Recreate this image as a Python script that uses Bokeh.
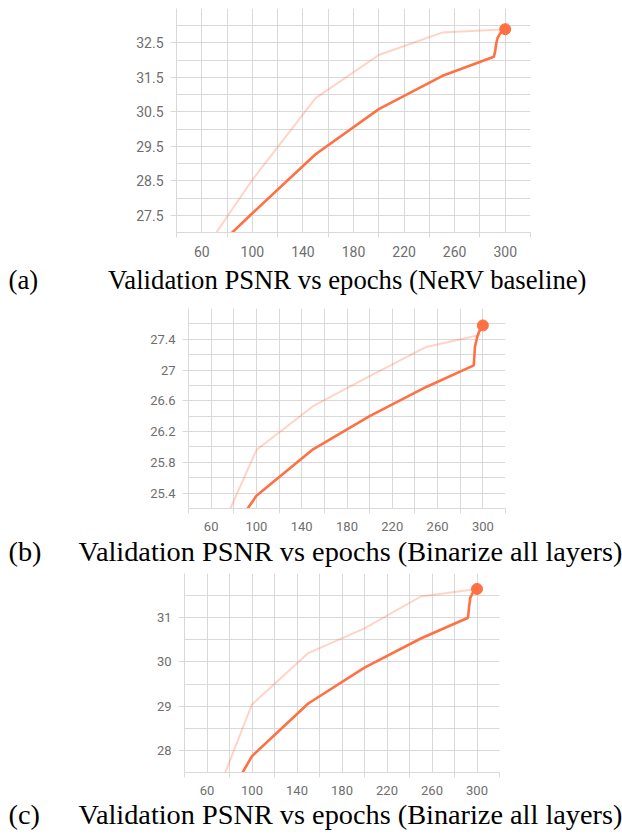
from bokeh.plotting import figure
from bokeh.models import Range1d, FixedTicker
from bokeh.core.properties import value
from bokeh.embed import file_html
from bokeh.resources import INLINE

# ---------------- data ----------------
# Panel (a): NeRV baseline
epochs_a_light = [50, 100, 150, 200, 250, 300]
psnr_a_light = [25.84, 28.53, 30.90, 32.15, 32.80, 32.90]
epochs_a_dark = [50, 100, 150, 200, 250, 291, 292, 293, 294, 296, 298, 300]
psnr_a_dark = [25.80, 27.56, 29.27, 30.58, 31.54, 32.10, 32.25, 32.50, 32.65, 32.78, 32.86, 32.90]

# Panel (b): Binarize all layers
epochs_b_light = [50, 100, 150, 200, 250, 295, 300]
psnr_b_light = [24.31, 25.96, 26.53, 26.92, 27.30, 27.45, 27.58]
epochs_b_dark = [50, 100, 150, 200, 250, 292, 293, 295, 297, 300]
psnr_b_dark = [24.30, 25.365, 25.97, 26.40, 26.78, 27.06, 27.30, 27.43, 27.51, 27.58]

# Panel (c): Binarize all layers
epochs_c_light = [50, 100, 150, 200, 250, 295, 300]
psnr_c_light = [25.80, 29.04, 30.20, 30.76, 31.48, 31.63, 31.65]
epochs_c_dark = [50, 100, 150, 200, 250, 292, 293, 294, 296, 298, 300]
psnr_c_dark = [25.67, 27.87, 29.06, 29.87, 30.53, 31.00, 31.25, 31.45, 31.55, 31.61, 31.65]

# ticks
x_label_ticks = [60, 100, 140, 180, 220, 260, 300]
x_minor_ticks = [40, 80, 120, 160, 200, 240, 280, 320]
x_grid_ticks = [40, 60, 80, 100, 120, 140, 160, 180, 200, 220, 240, 260, 280, 300, 320]

y_ticks_a = [27.5, 28.5, 29.5, 30.5, 31.5, 32.5]
y_grid_a = [27.0, 27.5, 28.0, 28.5, 29.0, 29.5, 30.0, 30.5, 31.0, 31.5, 32.0, 32.5, 33.0, 33.5]
y_ticks_b = [25.4, 25.8, 26.2, 26.6, 27.0, 27.4]
y_labels_b = ["25.4", "25.8", "26.2", "26.6", "27", "27.4"]
y_grid_b = [25.2, 25.4, 25.6, 25.8, 26.0, 26.2, 26.4, 26.6, 26.8, 27.0, 27.2, 27.4, 27.6, 27.8]
y_ticks_c = [28, 29, 30, 31]
y_grid_c = [27.5, 28.0, 28.5, 29.0, 29.5, 30.0, 30.5, 31.0, 31.5, 32.0]

captions = ["Validation PSNR vs epochs (NeRV baseline)",
            "Validation PSNR vs epochs (Binarize all layers)",
            "Validation PSNR vs epochs (Binarize all layers)"]
tags = ["(a)", "(b)", "(c)"]

LINE = "#ff7043"
GRID = "#d9d9d9"
TICK_TXT = "#6e6e6e"


def panel(xl, yl, xd, yd, yr, yticks, ygrid, ylabels,
          height, left, right, top, bottom, tick_size):
    p = figure(width=622, height=height, output_backend="svg", toolbar_location=None,
               x_range=Range1d(40, 320), y_range=Range1d(*yr),
               min_border_left=left, min_border_right=right,
               min_border_top=top, min_border_bottom=bottom)
    p.title = None
    p.outline_line_color = None
    p.background_fill_color = "white"
    p.border_fill_color = "white"

    p.xgrid.ticker = FixedTicker(ticks=x_grid_ticks)
    p.ygrid.ticker = FixedTicker(ticks=ygrid)
    for g in (p.xgrid[0], p.ygrid[0]):
        g.grid_line_color = GRID
        g.grid_line_width = 1

    xa = p.xaxis[0]
    xa.ticker = FixedTicker(ticks=x_label_ticks, minor_ticks=x_minor_ticks)
    xa.axis_line_color = GRID
    xa.major_tick_out = 0
    xa.major_tick_in = 0
    xa.minor_tick_out = 5
    xa.minor_tick_in = 0
    xa.minor_tick_line_color = GRID
    xa.major_label_standoff = 8
    xa.major_label_text_font = "Roboto"
    xa.major_label_text_font_size = tick_size
    xa.major_label_text_color = TICK_TXT

    ya = p.yaxis[0]
    ya.ticker = FixedTicker(ticks=yticks)
    if ylabels is not None:
        ya.major_label_overrides = {t: s for t, s in zip(yticks, ylabels)}
    ya.axis_line_color = GRID
    ya.major_tick_out = 6
    ya.major_tick_in = 0
    ya.major_tick_line_color = GRID
    ya.minor_tick_line_color = None
    ya.major_label_standoff = 7
    ya.major_label_text_font = "Roboto"
    ya.major_label_text_font_size = tick_size
    ya.major_label_text_color = TICK_TXT

    p.line(xl, yl, line_color=LINE, line_alpha=0.3, line_width=2)
    p.line(xd, yd, line_color=LINE, line_width=2.6)
    p.scatter([xd[-1]], [yd[-1]], size=11, color=LINE)
    return p


def caption_fig(tag, caption, height, ypos, cap_x, cap_size):
    c = figure(width=622, height=height, output_backend="svg", toolbar_location=None,
               x_range=Range1d(0, 622), y_range=Range1d(height, 0),
               x_axis_location=None, y_axis_location=None,
               min_border_left=0, min_border_right=0, min_border_top=0, min_border_bottom=0)
    c.title = None
    c.grid.visible = False
    c.outline_line_color = None
    c.text(x=[8], y=[ypos], text=[tag], text_font=value("Liberation Serif"),
           text_font_size=value(cap_size), text_color="black",
           text_align="left", text_baseline="alphabetic")
    c.text(x=[cap_x], y=[ypos], text=[caption], text_font=value("Liberation Serif"),
           text_font_size=value(cap_size), text_color="black",
           text_align="center", text_baseline="alphabetic")
    return c


pa = panel(epochs_a_light, psnr_a_light, epochs_a_dark, psnr_a_dark, (27.0, 33.5),
           y_ticks_a, y_grid_a, None,
           height=262, left=176, right=92, top=8, bottom=30, tick_size="14px")
ca = caption_fig(tags[0], captions[0], height=38, ypos=17, cap_x=347, cap_size="26.7px")

pb = panel(epochs_b_light, psnr_b_light, epochs_b_dark, psnr_b_dark, (25.2, 27.8),
           y_ticks_b, y_grid_b, y_labels_b,
           height=236, left=188, right=117, top=8, bottom=28, tick_size="13px")
cb = caption_fig(tags[1], captions[1], height=32, ypos=14.5, cap_x=350, cap_size="28.3px")

pc = panel(epochs_c_light, psnr_c_light, epochs_c_dark, psnr_c_dark, (27.5, 32.0),
           y_ticks_c, y_grid_c, None,
           height=232, left=184, right=123, top=5, bottom=28, tick_size="13px")
cc = caption_fig(tags[2], captions[2], height=35, ypos=14, cap_x=350, cap_size="28.3px")

open("out.html", "w").write(file_html([pa, ca, pb, cb, pc, cc], INLINE))
